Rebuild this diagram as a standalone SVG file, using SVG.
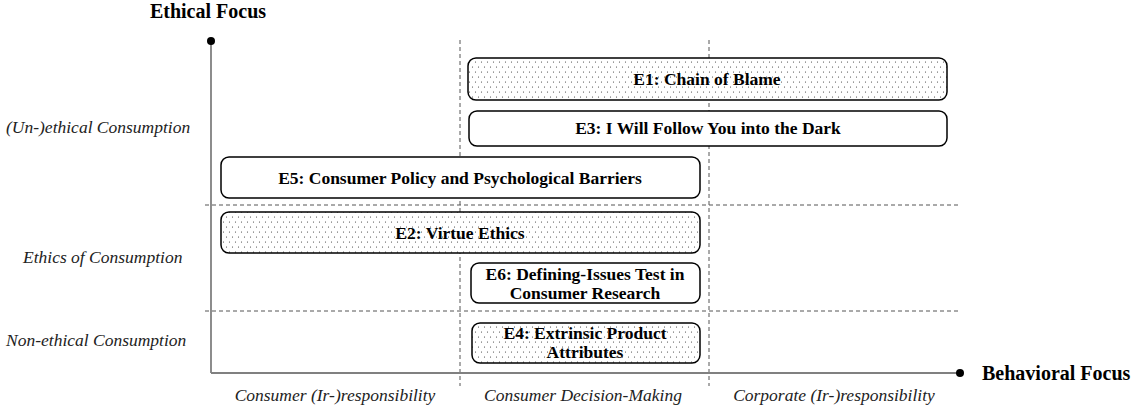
<svg xmlns="http://www.w3.org/2000/svg" width="1132" height="407" viewBox="0 0 1132 407">
<defs>
<pattern id="dots" width="6" height="10" patternUnits="userSpaceOnUse">
<rect width="6" height="10" fill="#ffffff"/>
<circle cx="1.5" cy="2" r="0.55" fill="#333"/>
<circle cx="4.5" cy="7" r="0.55" fill="#333"/>
</pattern>
</defs>
<style>
.box{stroke:#000;stroke-width:1.5;fill:#fff}
.dotted{fill:url(#dots)}
.lbl{font-family:"Liberation Serif","Times New Roman",serif;font-weight:bold;font-size:17.5px;fill:#000;text-anchor:middle}
.it{font-family:"Liberation Serif","Times New Roman",serif;font-style:italic;font-size:17.5px;fill:#222}
.ax{font-family:"Liberation Serif","Times New Roman",serif;font-weight:bold;font-size:20px;fill:#000}
.dash{stroke:#555;stroke-width:1;stroke-dasharray:4 3;fill:none}
.axis{stroke:#808080;stroke-width:1.8;fill:none}
</style>
<rect width="1132" height="407" fill="#fff"/>
<g id="grid">
<line class="dash" x1="460" y1="40" x2="460" y2="386"/>
<line class="dash" x1="709" y1="40" x2="709" y2="386"/>
<line class="dash" x1="205" y1="205" x2="960" y2="205"/>
<line class="dash" x1="205" y1="311" x2="960" y2="311"/>
</g>
<g id="axes">
<line class="axis" x1="211" y1="41" x2="211" y2="373"/>
<line class="axis" x1="211" y1="373" x2="960" y2="373"/>
<circle cx="211" cy="41" r="4" fill="#000"/>
<circle cx="960" cy="373" r="4" fill="#000"/>
<text class="ax" x="208" y="18" text-anchor="middle">Ethical Focus</text>
<text class="ax" x="982" y="380">Behavioral Focus</text>
</g>
<g id="row-labels">
<text class="it" x="6" y="133">(Un-)ethical Consumption</text>
<text class="it" x="23" y="263">Ethics of Consumption</text>
<text class="it" x="6" y="346">Non-ethical Consumption</text>
<text class="it" x="335" y="401" text-anchor="middle">Consumer (Ir-)responsibility</text>
<text class="it" x="583" y="401" text-anchor="middle">Consumer Decision-Making</text>
<text class="it" x="834" y="401" text-anchor="middle">Corporate (Ir-)responsibility</text>
</g>
<g id="E1">
<rect class="box dotted" x="468" y="58" width="479" height="42" rx="8"/>
<text class="lbl" x="707" y="85">E1: Chain of Blame</text>
</g>
<g id="E3">
<rect class="box" x="469" y="111" width="478" height="35" rx="8"/>
<text class="lbl" x="708" y="134">E3: I Will Follow You into the Dark</text>
</g>
<g id="E5">
<rect class="box" x="221" y="157" width="479" height="41" rx="8"/>
<text class="lbl" x="460" y="184">E5: Consumer Policy and Psychological Barriers</text>
</g>
<g id="E2">
<rect class="box dotted" x="221" y="212" width="479" height="41" rx="8"/>
<text class="lbl" x="460" y="239">E2: Virtue Ethics</text>
</g>
<g id="E6">
<rect class="box" x="471" y="263" width="229" height="40" rx="8"/>
<text class="lbl" x="585" y="280">E6: Defining-Issues Test in</text>
<text class="lbl" x="585" y="299">Consumer Research</text>
</g>
<g id="E4">
<rect class="box dotted" x="472" y="323" width="228" height="40" rx="8"/>
<text class="lbl" x="585" y="339">E4: Extrinsic Product</text>
<text class="lbl" x="585" y="358">Attributes</text>
</g>
</svg>
